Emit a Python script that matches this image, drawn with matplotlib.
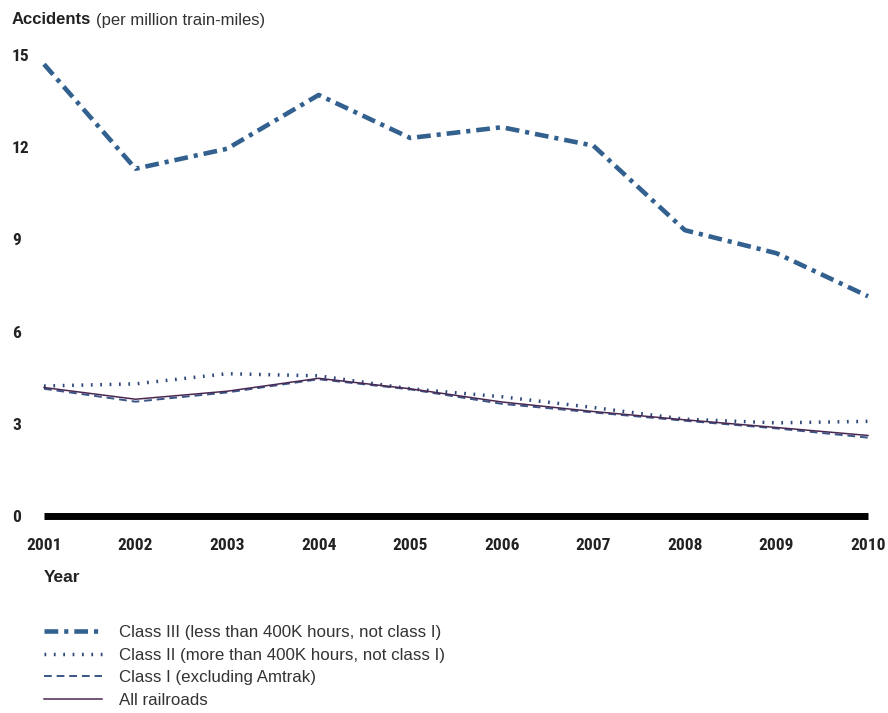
import matplotlib
matplotlib.use('Agg')
import matplotlib.pyplot as plt

narrow = ['Arial Narrow', 'Liberation Sans Narrow', 'Roboto Condensed', 'DejaVu Sans']
arial = ['Liberation Sans', 'DejaVu Sans']
plt.rcParams['font.family'] = narrow

# データ
years = [2001, 2002, 2003, 2004, 2005, 2006, 2007, 2008, 2009, 2010]
class3 = [14.7, 11.3, 11.95, 13.7, 12.3, 12.65, 12.05, 9.3, 8.55, 7.15]
class2 = [4.23, 4.3, 4.63, 4.56, 4.14, 3.88, 3.53, 3.15, 3.03, 3.08]
class1 = [4.14, 3.72, 4.02, 4.45, 4.12, 3.65, 3.37, 3.1, 2.85, 2.55]
all_rr = [4.18, 3.8, 4.06, 4.48, 4.14, 3.71, 3.4, 3.13, 2.88, 2.62]

labels = ['Class III (less than 400K hours, not class I)',
          'Class II (more than 400K hours, not class I)',
          'Class I (excluding Amtrak)',
          'All railroads']
yticks = [0, 3, 6, 9, 12, 15]

fig = plt.figure(figsize=(8.88, 7.13), dpi=100)
ax = fig.add_axes([44 / 888, 1 - 516 / 713, 824 / 888, 461 / 713])

ax.plot(years, class3, color='#33618f', lw=3.3, linestyle=(0, (3, 1.3, 0.9, 1.3)),
        clip_on=False, label=labels[0])
ax.plot(years, class2, color='#2b4677', lw=2.5, linestyle=(0, (0.5, 2.2)),
        clip_on=False, label=labels[1])
ax.plot(years, class1, color='#3b5588', lw=1.4, linestyle=(0, (4, 2.5)),
        clip_on=False, label=labels[2])
ax.plot(years, all_rr, color='#4a2850', lw=1.1, clip_on=False, label=labels[3])

# 軸設定
ax.set_xlim(2001, 2010)
ax.set_ylim(0, 15)
for s in ['top', 'right', 'left']:
    ax.spines[s].set_visible(False)
ax.spines['bottom'].set_linewidth(5)
ax.spines['bottom'].set_color('black')
ax.spines['bottom'].set_capstyle('butt')

ax.set_xticks(years)
ax.set_xticklabels([str(y) for y in years], fontsize=12.5, fontweight='bold', color='#222222')
ax.set_yticks(yticks)
ax.set_yticklabels([str(t) for t in yticks], fontsize=12.5, fontweight='bold', color='#222222')
for lab in ax.get_yticklabels():
    lab.set_horizontalalignment('left')
ax.tick_params(axis='x', length=0, pad=16)
ax.tick_params(axis='y', length=0, pad=23)

fig.text(12 / 888, 1 - 20 / 713, 'Accidents', fontsize=12, fontweight='bold',
         color='#222222', va='center', ha='left', family=arial)
fig.text(96 / 888, 1 - 20 / 713, '(per million train-miles)', fontsize=12,
         color='#333333', va='center', ha='left', family=arial)
fig.text(44 / 888, 1 - 578 / 713, 'Year', fontsize=12.5, fontweight='bold',
         color='#222222', va='center', ha='left', family=arial)

leg = fig.legend(loc='upper left', bbox_to_anchor=(44 / 888, 1 - 625 / 713),
                 frameon=False, prop={'family': arial, 'size': 12.2},
                 handlelength=3.4, handletextpad=1.0,
                 labelspacing=0.45, borderpad=0, borderaxespad=0)
for t in leg.get_texts():
    t.set_color('#333333')

fig.savefig('out.png', dpi=100)
